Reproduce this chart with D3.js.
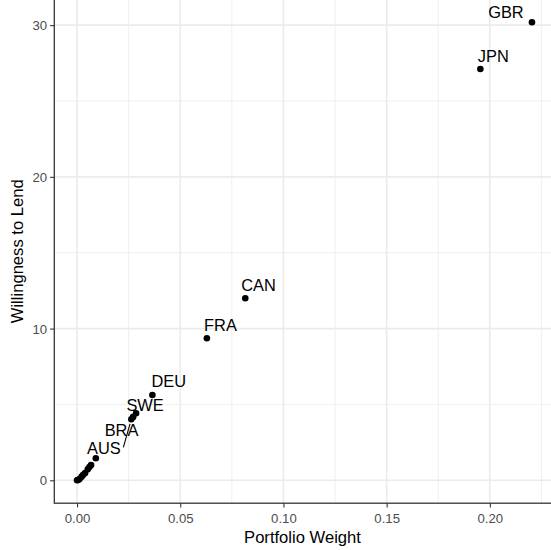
<!DOCTYPE html>
<html><head><meta charset="utf-8">
<script src="https://cdn.jsdelivr.net/npm/d3@7"></script>
<style>html,body{margin:0;padding:0;background:#fff;overflow:hidden}</style>
</head><body>
<script>
// ---- data ----
const codes   = ["GBR","JPN","CAN","FRA","DEU","SWE","","BRA","AUS","","","","","","","","",""];
const weights = [0.2204,0.1954,0.0815,0.0629,0.0365,0.0286,0.0272,0.0263,0.0091,0.0068,0.0060,0.0052,0.0039,0.0030,0.0022,0.0012,0.0005,0.0000];
const lend    = [30.19,27.11,12.00,9.36,5.62,4.42,4.18,4.02,1.45,1.01,0.88,0.72,0.48,0.36,0.24,0.08,0.02,0.00];
const xTicks = [0,0.05,0.10,0.15,0.20];
const yTicks = [0,10,20,30];
const xTitle = "Portfolio Weight";
const yTitle = "Willingness to Lend";
// label placement (pixel offsets from point, like ggrepel result)
const labelOffsets = {
  GBR:[-26,-4], JPN:[13,-6.5], CAN:[13.3,-7.6], FRA:[13.6,-7.3],
  DEU:[16.3,-8.2], SWE:[9,-2.6], BRA:[-9.8,16.7], AUS:[8,-4.3]
};
const segments = { BRA:[[-1.3,4.5],[-8,28]] };

const W=551,H=550;
const pts = codes.map((c,i)=>({code:c,x:weights[i],y:lend[i]}));
const xExt=d3.extent(weights), yExt=d3.extent(lend);
const xe=(xExt[1]-xExt[0])*0.05, ye=(yExt[1]-yExt[0])*0.05;
const L=54.3, R=554.7, T=-0.65, B=503.2;
const x=d3.scaleLinear().domain([xExt[0]-xe,xExt[1]+xe]).range([L,R]);
const y=d3.scaleLinear().domain([yExt[0]-ye,yExt[1]+ye]).range([B,T]);

const svg=d3.select("body").append("svg").attr("width",W).attr("height",H)
  .style("font-family","'Liberation Sans', Arial, Helvetica, sans-serif");

svg.append("rect").attr("x",L).attr("y",T).attr("width",R-L).attr("height",B-T).attr("fill","#fff");
const minorX=[0.025,0.075,0.125,0.175,0.225].filter(v=>v>x.domain()[0]&&v<x.domain()[1]);
const minorY=[5,15,25].filter(v=>v>y.domain()[0]&&v<y.domain()[1]);
const grid=svg.append("g");
grid.selectAll(".mx").data(minorX).join("line").attr("x1",d=>x(d)).attr("x2",d=>x(d)).attr("y1",T).attr("y2",B).attr("stroke","#EBEBEB").attr("stroke-width",0.8);
grid.selectAll(".my").data(minorY).join("line").attr("y1",d=>y(d)).attr("y2",d=>y(d)).attr("x1",L).attr("x2",R).attr("stroke","#EBEBEB").attr("stroke-width",0.8);
grid.selectAll(".Mx").data(xTicks).join("line").attr("x1",d=>x(d)).attr("x2",d=>x(d)).attr("y1",T).attr("y2",B).attr("stroke","#EBEBEB").attr("stroke-width",1.6);
grid.selectAll(".My").data(yTicks).join("line").attr("y1",d=>y(d)).attr("y2",d=>y(d)).attr("x1",L).attr("x2",R).attr("stroke","#EBEBEB").attr("stroke-width",1.6);

// axes
const xAxis=d3.axisBottom(x).tickValues(xTicks).tickFormat(d3.format(".2f")).tickSizeOuter(0).tickSizeInner(4.2).tickPadding(3);
const yAxis=d3.axisLeft(y).tickValues(yTicks).tickFormat(d3.format("d")).tickSizeOuter(0).tickSizeInner(4.2).tickPadding(3);
const gx=svg.append("g").attr("transform",`translate(0,${B})`).call(xAxis);
const gy=svg.append("g").attr("transform",`translate(${L},0)`).call(yAxis);
[gx,gy].forEach(g=>{
  g.select(".domain").remove();
  g.selectAll(".tick line").attr("stroke","#333333").attr("stroke-width",1.1);
  g.selectAll(".tick text").attr("fill","#4D4D4D").style("font-size","13.2px").style("font-family","'Liberation Sans', Arial, sans-serif");
});
gx.selectAll(".tick text").attr("dy",null).attr("y",19.8);
gy.selectAll(".tick text").attr("dy","0.35em");

// points
svg.append("g").selectAll("circle").data(pts).join("circle")
  .attr("cx",d=>x(d.x)).attr("cy",d=>y(d.y)).attr("r",3.3).attr("fill","#000");

// segments
svg.append("g").selectAll("line").data(pts.filter(d=>segments[d.code])).join("line")
  .attr("x1",d=>x(d.x)+segments[d.code][0][0]).attr("y1",d=>y(d.y)+segments[d.code][0][1])
  .attr("x2",d=>x(d.x)+segments[d.code][1][0]).attr("y2",d=>y(d.y)+segments[d.code][1][1])
  .attr("stroke","#000").attr("stroke-width",1.1);

// labels
svg.append("g").selectAll("text").data(pts.filter(d=>d.code&&labelOffsets[d.code])).join("text")
  .attr("x",d=>x(d.x)+labelOffsets[d.code][0]).attr("y",d=>y(d.y)+labelOffsets[d.code][1])
  .attr("text-anchor","middle").style("font-size","16.4px").attr("fill","#000").text(d=>d.code);

// panel border
svg.append("rect").attr("x",L).attr("y",T).attr("width",R-L).attr("height",B-T)
  .attr("fill","none").attr("stroke","#333333").attr("stroke-width",1.3);

// titles
svg.append("text").attr("x",(L+R-4)/2).attr("y",542.8).attr("text-anchor","middle")
  .style("font-size","16.6px").attr("fill","#000").text(xTitle);
svg.append("text").attr("transform",`translate(23,${(T+B)/2}) rotate(-90)`).attr("text-anchor","middle")
  .style("font-size","16.6px").attr("fill","#000").text(yTitle);
</script>
</body></html>
